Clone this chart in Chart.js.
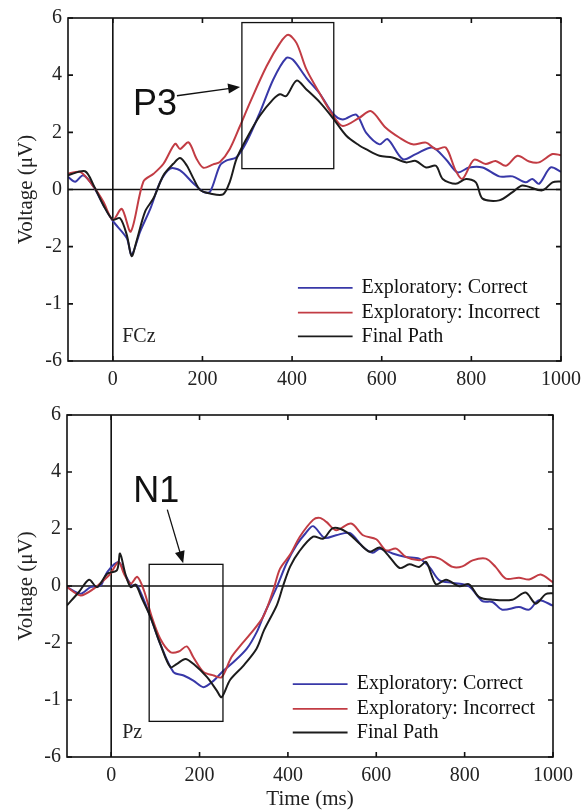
<!DOCTYPE html>
<html>
<head>
<meta charset="utf-8">
<script src="https://cdn.jsdelivr.net/npm/chart.js@4.4.1/dist/chart.umd.min.js"></script>
<style>
  html, body { margin: 0; padding: 0; background: #fff; }
  #wrap { position: relative; width: 588px; height: 810px; }
  canvas { position: absolute; left: 0; }
  #Chart-fcz { top: 0; }
  #Chart-pz { top: 395px; }
</style>
</head>
<body>
<div id="wrap">
  <canvas id="Chart-fcz" width="588" height="395"></canvas>
  <canvas id="Chart-pz" width="588" height="415"></canvas>
</div>
<script>
var timeTicks = [0, 200, 400, 600, 800, 1000];
var voltTicks = [-6, -4, -2, 0, 2, 4, 6];
var voltTickLabels = ['-6', '-1', '-2', '0', '2', '4', '6'];
var seriesNames = ['Exploratory: Correct', 'Exploratory: Incorrect', 'Final Path'];
var seriesColors = ['#3838a8', '#c23c44', '#1c1c1c'];

// FCz channel
var fczCorrectTime = [-100,-84,-66,-43,-21,0,31,42,61,84,106,128,150,180,202,217,239,254,276,298,328,358,387,402,432,462,491,513,543,565,595,613,647,676,713,743,769,795,825,862,892,921,936,951,977,1000];
var fczCorrectVolt = [0.44,0.27,0.5,0.1,-0.55,-1.1,-1.7,-2.28,-1.47,-0.66,0.27,0.73,0.67,0.21,-0.08,-0.08,0.84,1.02,1.13,1.65,2.69,3.85,4.6,4.54,3.9,3.35,2.66,2.45,2.62,1.99,1.58,1.76,1.06,1.24,1.47,1.06,0.6,0.77,0.77,0.46,0.46,0.25,0.37,0.2,0.77,0.62];
var fczIncorrectTime = [-100,-72,-43,-21,0,20,40,68,91,113,139,150,169,187,202,224,239,261,284,306,343,373,391,410,432,462,491,513,550,576,609,639,669,699,721,743,765,780,806,832,854,877,903,929,951,981,1000];
var fczIncorrectVolt = [0.55,0.61,0.1,-0.43,-1.06,-0.68,-1.47,0.27,0.55,0.9,1.6,1.42,1.65,1.07,0.76,0.88,0.96,1.42,2.23,3.04,4.31,5.12,5.41,5.12,4.2,3.35,2.6,2.22,2.51,2.74,2.16,1.82,1.58,1.64,1.41,1.47,0.66,0.37,1.04,0.89,1.0,0.83,1.18,0.98,0.95,1.24,1.2];
var fczFinalTime = [-100,-62,-43,-21,0,16,31,42,53,72,91,113,135,150,165,180,195,217,246,261,276,298,328,358,373,387,410,432,462,491,521,550,565,595,624,654,676,699,721,736,765,788,810,825,862,892,914,958,981,1000];
var fczFinalVolt = [0.5,0.64,0.15,-0.55,-1.06,-1.0,-1.58,-2.33,-1.8,-0.77,-0.3,0.5,0.9,1.1,0.84,0.38,-0.02,-0.14,-0.17,0.27,1.07,1.77,2.58,3.16,3.33,3.27,3.81,3.5,3.05,2.5,1.88,1.54,1.41,1.18,1.12,0.95,1.0,0.77,0.83,0.37,0.2,0.37,0.25,-0.32,-0.38,-0.09,0.14,-0.03,0.25,0.28];

// Pz channel
var pzCorrectTime = [-100,-69,-47,-24,-9,17,32,47,59,89,111,141,164,186,209,232,254,277,307,330,346,375,397,420,440,457,483,509,540,570,592,608,637,667,697,720,743,773,810,840,863,885,923,946,968,1000];
var pzCorrectVolt = [-0.04,-0.27,-0.04,0.02,0.49,0.84,0.38,0.02,0.02,-1.09,-2.03,-3.02,-3.14,-3.32,-3.55,-3.32,-2.97,-2.67,-2.2,-1.6,-1.0,-0.03,0.8,1.45,1.85,2.1,1.69,1.78,1.86,1.37,1.17,1.31,1.14,1.02,0.96,0.67,0.2,0.11,-0.01,-0.53,-0.56,-0.83,-0.74,-0.83,-0.5,-0.69];
var pzIncorrectTime = [-100,-69,-39,-17,-2,17,29,44,59,74,92,111,134,153,171,186,209,232,250,272,292,314,344,367,382,405,427,457,472,487,509,543,570,600,622,645,667,697,720,743,773,795,818,848,870,893,923,946,972,1000];
var pzIncorrectVolt = [-0.04,-0.33,-0.09,0.2,0.43,0.84,0.43,0.08,0.32,-0.15,-1.09,-1.85,-2.32,-2.3,-2.12,-2.5,-3.02,-3.14,-3.2,-2.5,-2.1,-1.7,-1.08,-0.14,0.6,1.1,1.73,2.32,2.39,2.25,1.96,2.19,1.78,1.64,1.25,1.31,1.02,0.9,1.02,0.96,0.67,0.69,0.9,0.96,0.67,0.26,0.29,0.23,0.4,0.13];
var pzFinalTime = [-100,-73,-50,-32,-9,13,20,32,44,55,70,89,111,134,149,168,186,217,239,250,269,299,329,346,375,389,405,425,457,480,502,532,562,585,608,630,653,675,697,713,735,758,788,810,833,863,908,938,961,983,1000];
var pzFinalVolt = [-0.68,-0.21,0.22,-0.04,0.43,0.55,1.14,0.43,-0.04,0.05,-0.45,-1.09,-2.03,-2.85,-2.73,-2.56,-2.73,-3.2,-3.67,-3.9,-3.3,-2.8,-2.2,-1.55,-0.67,0.0,0.68,1.2,1.73,1.66,2.03,1.9,1.49,1.2,1.35,1.02,0.63,0.76,0.67,0.84,0.06,0.22,-0.01,0.06,-0.39,-0.48,-0.48,-0.23,-0.62,-0.29,-0.25];

function makePoints(t, v) {
  var pts = [];
  for (var i = 0; i < t.length; i++) pts.push({ x: t[i], y: v[i] });
  return pts;
}

// zero lines, frame, inward ticks, ERP box + arrow, channel name, legend
var erpDecor = {
  id: 'erpDecor',
  beforeDatasetsDraw: function (chart) {
    var ctx = chart.ctx, a = chart.chartArea;
    var xs = chart.scales.x, ys = chart.scales.y;
    ctx.save();
    ctx.strokeStyle = '#111';
    ctx.lineWidth = 1.6;
    ctx.beginPath();
    ctx.moveTo(a.left, ys.getPixelForValue(0));
    ctx.lineTo(a.right, ys.getPixelForValue(0));
    ctx.moveTo(xs.getPixelForValue(0), a.top);
    ctx.lineTo(xs.getPixelForValue(0), a.bottom);
    ctx.stroke();
    ctx.restore();
  },
  afterDatasetsDraw: function (chart, args, opts) {
    var ctx = chart.ctx, a = chart.chartArea;
    var xs = chart.scales.x, ys = chart.scales.y;
    function px(v) { return xs.getPixelForValue(v); }
    function py(v) { return ys.getPixelForValue(v); }
    ctx.save();
    ctx.strokeStyle = '#111';
    ctx.fillStyle = '#111';
    ctx.lineWidth = 1.6;
    ctx.strokeRect(a.left, a.top, a.right - a.left, a.bottom - a.top);

    ctx.beginPath();
    timeTicks.forEach(function (t) {
      ctx.moveTo(px(t), a.bottom); ctx.lineTo(px(t), a.bottom - 5);
      ctx.moveTo(px(t), a.top); ctx.lineTo(px(t), a.top + 5);
    });
    voltTicks.forEach(function (v) {
      ctx.moveTo(a.left, py(v)); ctx.lineTo(a.left + 5, py(v));
      ctx.moveTo(a.right, py(v)); ctx.lineTo(a.right - 5, py(v));
    });
    ctx.stroke();

    // component box
    var b = opts.box;
    ctx.lineWidth = 1.3;
    ctx.strokeRect(px(b[0]), py(b[3]), px(b[1]) - px(b[0]), py(b[2]) - py(b[3]));

    // component label and arrow
    ctx.font = '36px "Liberation Sans", Arial, sans-serif';
    ctx.textBaseline = 'alphabetic';
    ctx.textAlign = 'left';
    ctx.fillText(opts.label, px(opts.labelAt[0]), py(opts.labelAt[1]));
    var x1 = px(opts.arrowFrom[0]), y1 = py(opts.arrowFrom[1]);
    var x2 = px(opts.arrowTo[0]), y2 = py(opts.arrowTo[1]);
    var ang = Math.atan2(y2 - y1, x2 - x1);
    ctx.lineWidth = 1.3;
    ctx.beginPath();
    ctx.moveTo(x1, y1);
    ctx.lineTo(x2 - 10 * Math.cos(ang), y2 - 10 * Math.sin(ang));
    ctx.stroke();
    ctx.beginPath();
    ctx.moveTo(x2, y2);
    ctx.lineTo(x2 - 12 * Math.cos(ang) + 5 * Math.sin(ang), y2 - 12 * Math.sin(ang) - 5 * Math.cos(ang));
    ctx.lineTo(x2 - 12 * Math.cos(ang) - 5 * Math.sin(ang), y2 - 12 * Math.sin(ang) + 5 * Math.cos(ang));
    ctx.closePath();
    ctx.fill();

    // channel name
    ctx.font = '20px "Liberation Serif", "Times New Roman", serif';
    ctx.fillStyle = '#222';
    ctx.fillText(opts.channel, px(opts.channelAt[0]), py(opts.channelAt[1]));

    // legend inside the plot
    ctx.textBaseline = 'middle';
    chart.data.datasets.forEach(function (ds, i) {
      var yy = py(opts.legendRows[i]);
      ctx.strokeStyle = ds.borderColor;
      ctx.lineWidth = 1.8;
      ctx.beginPath();
      ctx.moveTo(px(opts.legendLine[0]), yy);
      ctx.lineTo(px(opts.legendLine[1]), yy);
      ctx.stroke();
      ctx.fillStyle = '#111';
      ctx.fillText(ds.label, px(opts.legendText), yy);
    });
    ctx.restore();
  }
};

function createErpChart(canvasId, times, volts, decor, layout) {
  var ctx = document.getElementById(canvasId).getContext('2d');
  var datasets = [];
  for (var i = 0; i < 3; i++) {
    datasets.push({
      label: seriesNames[i],
      data: makePoints(times[i], volts[i]),
      borderColor: seriesColors[i],
      borderWidth: 2,
      pointRadius: 0,
      tension: 0.3,
      fill: false,
      order: 2 - i
    });
  }
  return new Chart(ctx, {
    type: 'line',
    data: { datasets: datasets },
    options: {
      responsive: false,
      animation: false,
      layout: { padding: { top: layout.top, right: layout.right, bottom: 0, left: 0 } },
      plugins: {
        legend: { display: false },
        tooltip: { enabled: false },
        erpDecor: decor
      },
      scales: {
        x: {
          type: 'linear',
          position: 'bottom',
          min: -100,
          max: 1000,
          afterBuildTicks: function (scale) {
            scale.ticks = timeTicks.map(function (t) { return { value: t }; });
          },
          afterFit: function (scale) { scale.height = layout.xHeight; },
          grid: { display: false, drawTicks: false },
          border: { display: false },
          ticks: {
            padding: 7,
            color: '#222',
            maxRotation: 0,
            font: { family: '"Liberation Serif", "Times New Roman", serif', size: 20 },
            callback: function (value) { return String(value); }
          },
          title: {
            display: layout.xTitle,
            text: 'Time (ms)',
            color: '#222',
            padding: { top: 0, bottom: 0 },
            font: { family: '"Liberation Serif", "Times New Roman", serif', size: 21, lineHeight: 1.0 }
          }
        },
        y: {
          min: -6,
          max: 6,
          afterBuildTicks: function (scale) {
            scale.ticks = voltTicks.map(function (v) { return { value: v }; });
          },
          afterFit: function (scale) { scale.width = layout.yWidth; },
          grid: { display: false, drawTicks: false },
          border: { display: false },
          ticks: {
            padding: 6,
            color: '#222',
            font: { family: '"Liberation Serif", "Times New Roman", serif', size: 20 },
            callback: function (value, index) { return voltTickLabels[index]; }
          },
          title: {
            display: true,
            text: 'Voltage (\u03bcV)',
            color: '#222',
            padding: { top: 14, bottom: 0 },
            font: { family: '"Liberation Serif", "Times New Roman", serif', size: 21 }
          }
        }
      }
    },
    plugins: [erpDecor]
  });
}

var legendRows = [-3.44, -4.31, -5.14];

createErpChart('Chart-fcz',
  [fczCorrectTime, fczIncorrectTime, fczFinalTime],
  [fczCorrectVolt, fczIncorrectVolt, fczFinalVolt],
  {
    box: [288, 493, 0.73, 5.84],
    label: 'P3', labelAt: [45, 2.59],
    arrowFrom: [143, 3.28], arrowTo: [284, 3.59],
    channel: 'FCz', channelAt: [21, -5.35],
    legendRows: legendRows, legendLine: [413, 535], legendText: [555]
  },
  { top: 15, right: 26, yWidth: 68, xHeight: 34, xTitle: false });

createErpChart('Chart-pz',
  [pzCorrectTime, pzIncorrectTime, pzFinalTime],
  [pzCorrectVolt, pzIncorrectVolt, pzFinalVolt],
  {
    box: [86, 253, -4.75, 0.76],
    label: 'N1', labelAt: [50, 2.96],
    arrowFrom: [127, 2.68], arrowTo: [163, 0.8],
    channel: 'Pz', channelAt: [25, -5.32],
    legendRows: legendRows, legendLine: [411, 535], legendText: [556]
  },
  { top: 20, right: 35, yWidth: 67, xHeight: 53, xTitle: true });
</script>
</body>
</html>
